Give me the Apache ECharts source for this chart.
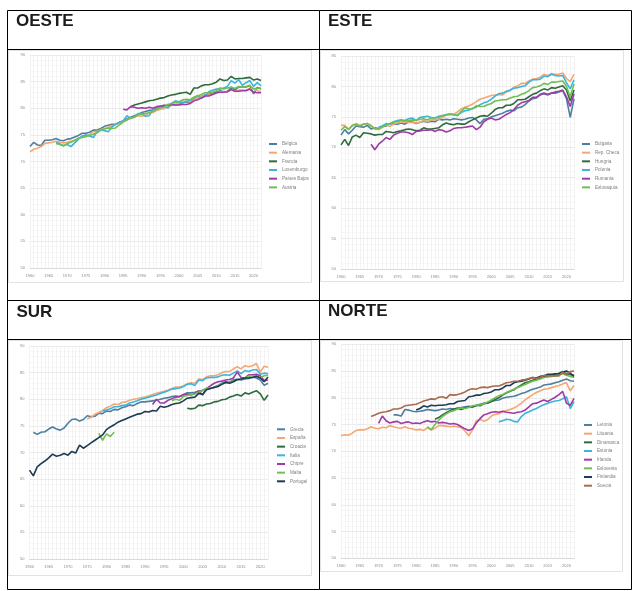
<!DOCTYPE html>
<html><head><meta charset="utf-8">
<script src="https://cdn.jsdelivr.net/npm/echarts@6/dist/echarts.min.js"></script>
<style>html,body{margin:0;padding:0;background:#fff;}#c{width:640px;height:591px;}</style>
</head><body><div id="c"></div>
<script>
// ---- categories ----
const years = [];
for (let y = 1960; y <= 2022; y++) years.push(String(y));
const FIRST = 1960;
function pad(start, vals) { const a = []; for (let y = FIRST; y < start; y++) a.push(null); return a.concat(vals); }

// ---- OESTE ----
const oesteNames = ['Bélgica','Alemania','Francia','Luxemburgo','Países Bajos','Austria'];
const belgica = [72.8,73.6,73.1,73.0,74.0,74.0,74.1,74.3,74.0,73.9, 74.2,74.3,74.6,74.9,75.3,75.3,75.5,75.9,75.9,76.2, 76.6,76.8,77.0,77.0,77.4,77.6,78.0,78.3,78.6,78.8, 79.2,79.4,79.6,79.6,80.0,80.1,80.3,80.5,80.6,80.6, 80.8,81.1,81.2,81.1,81.8,81.9,82.2,82.5,82.6,82.9, 83.0,83.3,83.1,83.2,83.9,83.4,84.0,84.0,84.0,84.3, 82.7,83.9,83.6];
const alemania = [71.8,72.3,72.5,72.8,73.4,73.5,73.6,73.8,73.6,73.5, 73.6,73.8,74.0,74.3,74.6,74.7,75.1,75.6,75.7,76.0, 76.2,76.4,76.7,76.9,77.3,77.6,77.8,78.2,78.3,78.6, 78.5,78.7,79.1,79.2,79.6,79.8,79.9,80.3,80.5,80.7, 81.0,81.3,81.3,81.2,81.8,81.9,82.2,82.4,82.5,82.6, 82.8,83.1,83.1,83.1,83.5,83.2,83.4,83.4,83.4,83.7, 83.6,83.3,83.1];
const francia = [80.3,80.6,80.8, 81.0,81.2,81.4,81.5,81.7,81.9,82.0,82.3,82.5,82.6, 82.8,82.9,83.0,82.6,83.8,83.8,84.2,84.4,84.4,84.6, 84.9,85.5,85.2,85.3,86.0,85.5,85.6,85.6,85.7,85.8, 85.3,85.5,85.2]; // from 1987
const luxemburgo = [73.6,73.3,73.0, 73.2,72.8,73.5,74.2,74.8,75.0,74.8,74.5,75.6,75.9, 75.8,75.6,76.5,77.0,77.3,77.6,78.6,78.1,78.4,79.0, 79.0,78.5,78.6,79.8,79.8,80.2,80.6,80.0,80.9,81.4, 81.2,81.0,81.3,81.5,81.9,82.4,81.9,82.3,83.1,83.4, 83.6,83.6,83.8,84.1,85.2,84.7,85.4,84.3,84.8,85.2, 84.1,84.8,84.2]; // from 1967
const paisesBajos = [79.8,79.7,80.3,80.2,80.0, 80.1,80.0,80.2,80.0,80.3,80.4,80.5,80.6,80.7,80.6, 80.6,80.7,80.7,80.9,81.4,81.6,81.9,82.3,82.3,82.6, 82.9,83.0,83.0,83.1,83.5,83.2,83.2,83.3,83.3,83.6, 83.0,82.9,82.9]; // from 1985
const austria = [73.4,73.2,72.9, 73.4,73.6,74.0,74.4,74.5,74.7,74.9,75.1,75.4,75.9, 76.1,76.3,76.2,76.3,76.9,77.4,77.8,78.1,78.3,78.8, 78.9,79.0,79.2,79.4,79.8,80.1,80.2,80.7,80.9,81.1, 81.2,81.6,81.7,81.6,82.1,82.3,82.6,82.9,82.9,83.0, 83.3,83.8,83.6,83.8,84.0,83.7,84.1,84.0,84.1,84.2, 83.7,83.7,83.8]; // from 1967

// ---- ESTE ----
const esteNames = ['Bulgaria','Rep. Checa','Hungría','Polonia','Rumanía','Eslovaquia'];
const bulgaria = [72.0,72.9,72.2,72.8,73.5,73.4,73.3,73.6,73.0,73.2, 73.1,73.4,73.5,73.9,73.8,73.8,74.0,73.8,74.2,74.2, 73.9,74.1,74.3,74.1,74.3,74.2,74.6,74.5,74.6,74.5, 74.7,74.6,74.5,74.6,74.8,74.9,74.5,73.9,74.6,74.7, 75.0,75.2,75.4,75.6,75.9,76.1,76.0,76.5,76.6,77.0, 77.6,78.0,78.1,78.6,78.8,78.6,78.9,78.9,79.1,79.3, 78.0,74.9,78.0];
const repCheca = [73.6,73.6,73.0,73.5,73.9,73.6,73.8,73.9,73.6,73.1, 72.9,73.4,73.7,73.4,73.8,74.0,74.1,74.2,74.1,74.1, 74.0,74.1,74.4,74.2,74.5,74.5,74.6,74.9,75.3,75.4, 75.4,75.8,76.3,76.6,76.8,77.1,77.5,77.9,78.1,78.3, 78.5,78.6,78.7,78.6,79.1,79.3,79.9,80.1,80.5,80.5, 80.9,81.2,81.3,81.5,82.0,81.8,82.1,82.0,82.0,82.2, 81.3,80.8,82.0];
const hungria = [70.4,71.3,70.3,71.7,72.0,71.6,72.4,72.3,72.2,72.0, 72.1,72.1,72.6,72.5,72.4,72.6,72.7,72.9,73.0,72.9, 72.7,72.8,73.2,73.0,73.0,73.1,73.2,73.7,74.0,73.8, 73.7,73.9,73.8,73.8,74.2,74.5,74.8,75.1,75.2,75.1, 75.6,76.2,76.5,76.5,76.9,76.9,77.2,77.8,77.8,77.9, 78.3,78.7,78.9,79.3,79.6,79.4,79.8,79.7,79.9,80.1, 79.4,77.6,79.4];
const polonia = [73.3,73.5,73.9,73.8,74.2,74.4,74.5,74.4,74.7,74.8, 74.4,74.9,75.0,75.1,74.9,74.8,75.1,75.2,75.4,75.5, 75.3,75.3,75.7,76.0,76.1,76.4,76.6,77.0,77.3,77.5, 77.9,78.4,78.8,78.9,79.2,79.4,79.7,79.8,80.0,80.1, 80.7,81.1,81.1,81.2,81.7,81.6,82.0,81.8,81.7,81.8, 80.6,79.6,81.1]; // from 1970
const rumania = [70.5,69.6, 70.5,71.0,71.6,71.3,72.0,72.3,72.5,72.5,72.4,72.1, 72.6,72.7,72.8,72.8,72.9,72.6,72.9,72.8,72.5,72.7, 73.1,73.2,73.2,73.3,73.4,73.5,72.9,73.3,74.2,74.6, 74.8,74.5,74.6,75.0,75.4,75.7,76.2,76.9,77.3,77.5, 77.7,78.2,78.2,78.7,78.9,78.7,78.9,79.1,79.2,79.4, 78.3,76.7,78.8]; // from 1968
const eslovaquia = [72.8,73.4,72.9,73.6,73.8,73.5,73.8,73.9,73.5,73.0, 73.0,73.3,73.7,73.9,74.1,74.2,74.4,74.3,74.4,74.5, 74.4,74.6,74.7,74.5,74.8,74.8,74.9,75.2,75.3,75.4, 75.4,75.2,75.9,76.5,76.3,76.3,76.8,76.7,76.7,77.0, 77.2,77.6,77.7,77.8,77.8,78.1,78.3,78.4,78.7,78.9, 79.3,79.8,79.9,80.1,80.5,80.3,80.7,80.7,80.8,80.9, 80.0,78.3,80.4];

// ---- SUR ----
const surNames = ['Grecia','España','Croacia','Italia','Chipre','Malta','Portugal'];
const grecia = [73.8,73.4,73.8,73.9,74.4,74.8,74.4,74.2,74.6, 75.5,76.2,76.3,75.9,76.2,76.9,76.7,76.8,77.4,77.3, 77.8,77.7,78.1,78.0,78.4,78.6,78.9,78.8,79.2,79.5, 79.5,79.6,79.7,79.8,80.0,80.2,80.3,80.5,80.6,80.5, 80.9,81.2,81.2,81.3,81.5,81.7,82.0,82.0,82.3,82.6, 83.0,83.3,83.2,83.7,83.7,83.6,83.8,83.9,84.2,84.0, 83.6,82.6,83.0]; // from 1961
const espana = [76.3,76.6,77.2,77.5,77.9, 78.4,78.7,79.1,79.0,79.4,79.5,79.8,80.0,80.1,80.3, 80.4,80.6,80.9,81.1,81.3,81.5,81.7,82.0,82.3,82.3, 82.5,82.9,83.1,83.0,83.8,83.7,84.2,84.4,84.4,84.6, 85.0,85.2,85.2,85.7,86.1,85.7,86.3,86.1,86.3,86.7, 85.1,86.2,86.0]; // from 1975
const croacia = [78.3,78.2,78.3,78.9,78.8,79.1,79.2,79.5,79.6, 79.9,80.0,80.4,80.6,80.9,80.6,81.2,81.0,81.3,81.6, 81.0,79.8,80.8]; // from 2001
const italia = [77.8, 78.0,78.2,78.6,78.6,78.8,78.9,79.3,79.5,79.7,80.0, 80.2,80.4,80.6,80.8,81.1,81.3,81.6,81.9,82.0,82.1, 82.4,82.8,82.9,82.6,83.6,83.5,84.0,84.1,84.1,84.2, 84.5,84.6,84.5,84.9,85.3,84.8,85.4,85.2,85.5,85.6, 84.7,84.9,84.8]; // from 1979
const chipre = [79.0,80.0,79.3,79.3,79.8,80.1,80.4,80.5, 80.8,81.0,80.8,81.1,81.6,80.8,82.0,82.5,83.0,83.3, 83.4,83.6,83.7,84.0,85.1,84.1,84.0,84.6,84.6,84.7, 84.4,83.5,83.6]; // from 1992
const maltaA = [73.6,72.3,73.5,73.0,73.8]; // 1978-1982
const maltaB = [79.7,80.0,79.8, 80.5,80.7,80.9,81.0,81.3,81.6,82.0,82.1,82.2,82.5, 82.9,83.0,83.2,83.4,83.6,83.8,84.0,84.3,84.4,84.4, 84.0,84.4,84.5]; // 1997-2022
const portugal = [66.7,65.6,67.3,67.9,68.4,69.0,69.7,69.3,69.5,69.8, 69.5,70.2,69.9,71.4,70.8,71.3,71.8,72.3,72.8,73.3, 74.3,74.8,75.2,75.7,76.0,76.3,76.6,76.9,77.2,77.3, 77.7,77.6,77.9,77.8,78.7,78.5,78.7,79.0,79.2,79.3, 79.7,80.2,80.3,80.4,81.1,80.9,81.8,82.0,82.2,82.4, 82.8,83.2,83.0,83.3,83.7,83.8,84.0,84.0,84.1,84.3, 84.0,83.3,84.2];

// ---- NORTE ----
const norteNames = ['Letonia','Lituania','Dinamarca','Estonia','Irlanda','Eslovenia','Finlandia','Suecia'];
const letonia = [76.8,76.8,76.6,77.8,77.7,77.5, 77.4,77.5,77.6,77.8,77.7,77.6,77.7,77.9,77.8,78.0, 77.9,78.1,78.2,78.3,78.4,78.3,78.5,78.8,79.0,79.1, 79.3,79.5,79.6,79.9,80.1,80.2,80.3,80.5,80.8,81.0, 81.3,81.6,81.8,82.0,82.4,82.5,82.6,82.8,83.0,83.3, 83.5,83.2,83.1]; // from 1974
const lituania = [72.9,73.1,73.0,73.4,73.9,74.0,74.0,74.2,74.6,74.3, 74.2,74.5,74.4,74.8,74.6,74.4,74.3,74.6,74.3,74.2, 74.0,74.1,73.9,74.4,74.0,74.3,74.8,74.8,74.7,74.6, 74.7,74.6,74.4,73.8,72.9,74.0,75.7,76.0,75.6,75.9, 76.6,76.9,77.0,77.4,77.6,77.8,78.1,78.5,79.0,79.6, 80.1,80.6,81.0,81.3,81.6,81.7,81.9,82.1,82.3,82.6, 82.8,81.3,82.3];
const dinamarca = [76.0,76.3,76.8,77.2,77.6, 77.9,78.0,77.8,78.1,78.3,78.3,78.6,78.5,78.9,79.0, 79.3,79.7,80.0,80.5,80.9,81.2,81.5,82.0,82.4,82.8, 83.0,83.3,83.5,83.6,83.9,84.0,84.2,84.4,84.6,84.9, 84.5,84.3,84.2]; // from 1985
const estonia = [75.5,75.7,76.0,75.9,75.6,75.5,76.5,77.1, 77.4,77.7,78.0,78.4,78.7,79.0,79.2,79.4,79.5,79.8, 80.2,78.0,79.3]; // from 2002
const irlanda = [75.2,76.6,75.7,75.3,75.5,75.6,75.2,75.4,75.5,75.2, 75.3,75.2,75.5,75.7,75.5,75.6,75.3,75.4,75.3,75.1, 75.2,75.0,74.6,74.2,73.9,74.2,75.3,76.1,76.8,77.0, 77.3,77.4,77.3,77.5,77.3,77.2,77.1,77.3,77.4,77.7, 78.3,78.9,79.0,79.3,79.6,79.3,79.7,80.1,80.6,81.2, 79.0,78.6,79.9]; // from 1970
const eslovenia = [74.6,74.0,75.0,75.8,76.5,77.0,77.4, 77.6,77.9,78.1,78.0,78.2,78.5,78.6,78.7,78.9,79.2, 79.6,80.0,80.4,80.6,81.0,81.3,81.6,81.9,82.2,82.5, 82.8,83.1,83.3,83.5,83.8,83.9,84.0,84.1,84.3,84.5, 84.2,84.0,83.8]; // from 1983
const finlandia = [77.7,78.0,78.5,78.3,78.6,78.5,78.6,78.6,78.7,78.9, 78.9,79.3,79.4,79.5,80.2,80.3,80.5,80.5,80.8,80.9, 81.1,81.5,81.5,81.8,82.3,82.3,82.8,83.0,83.1,83.3, 83.5,83.8,83.7,84.0,84.1,84.4,84.4,84.5,84.5,84.8, 85.0,84.6,84.0]; // from 1980
const suecia = [76.5,76.8, 77.1,77.3,77.4,77.6,77.9,77.9,78.1,78.5,78.6,78.7, 78.8,79.1,79.4,79.6,79.8,79.7,80.1,80.2,79.9,80.6, 80.5,80.6,80.8,81.1,81.5,81.7,81.6,81.9,82.0,81.9, 82.1,82.2,82.2,82.5,82.8,82.9,83.1,83.1,83.3,83.4, 83.6,83.8,83.6,83.8,84.2,84.1,84.1,84.1,84.1,84.8, 84.3,84.9,85.0]; // from 1968

const C = ['#4d7f9f','#f4a773','#2f6b3c','#3cb4dc','#9f3aa8','#70bf52','#1f3a52','#a86b4e'];

const panels = [
  { title:'OESTE', tx:16, ty:21.5, grid:{left:30, top:55, width:231, height:213}, ymax:90,
    lx:269, ly:141, box:[8.5,50.5,303,232],
    names: oesteNames,
    data: [pad(1960,belgica), pad(1960,alemania), pad(1987,francia), pad(1967,luxemburgo), pad(1985,paisesBajos), pad(1967,austria)],
    colors: [C[0],C[1],C[2],C[3],C[4],C[5]] },
  { title:'ESTE', tx:328, ty:21.5, grid:{left:341, top:56, width:233, height:213}, ymax:85,
    lx:582, ly:141, box:[320.5,50.5,303,231],
    names: esteNames,
    data: [pad(1960,bulgaria), pad(1960,repCheca), pad(1960,hungria), pad(1970,polonia), pad(1968,rumania), pad(1960,eslovaquia)],
    colors: [C[0],C[1],C[2],C[3],C[4],C[5]] },
  { title:'SUR', tx:16.5, ty:312, grid:{left:29.5, top:346, width:238.5, height:213}, ymax:90,
    lx:277, ly:426.3, box:[8.5,340.5,303,235],
    names: surNames,
    data: [pad(1961,grecia), pad(1975,espana), pad(2001,croacia), pad(1979,italia), pad(1992,chipre),
           pad(1978, maltaA).concat(new Array(14).fill(null), maltaB), pad(1960,portugal)],
    colors: [C[0],C[1],C[2],C[3],C[4],C[5],C[6]] },
  { title:'NORTE', tx:328, ty:311.5, grid:{left:341, top:344.3, width:233, height:214}, ymax:90,
    lx:584, ly:422, box:[320.5,340.5,302,231],
    names: norteNames,
    data: [pad(1974,letonia), pad(1960,lituania), pad(1985,dinamarca), pad(2002,estonia), pad(1970,irlanda), pad(1983,eslovenia), pad(1980,finlandia), pad(1968,suecia)],
    colors: [C[0],C[1],C[2],C[3],C[4],C[5],C[6],C[7]] }
];

const series = [];
panels.forEach((p, i) => {
  p.names.forEach((n, k) => {
    series.push({ type:'line', name:n, xAxisIndex:i, yAxisIndex:i, data:p.data[k],
      showSymbol:false, symbol:'none', connectNulls:false, silent:true,
      lineStyle:{ width:1.6, color:p.colors[k] }, itemStyle:{ color:p.colors[k] } });
  });
});

const graphic = [];
// table borders
const tl = { stroke:'#000', lineWidth:1 };
[[7.5,10.5,631.5,10.5],[7.5,49.5,631.5,49.5],[7.5,300.5,631.5,300.5],[7.5,339.5,631.5,339.5],[7.5,589.5,631.5,589.5],
 [7.5,10.5,7.5,589.5],[319.5,10.5,319.5,589.5],[631.5,10.5,631.5,589.5]].forEach(s => {
  graphic.push({ type:'line', shape:{x1:s[0],y1:s[1],x2:s[2],y2:s[3]}, style:tl, silent:true, z:10 });
});
panels.forEach(p => {
  graphic.push({ type:'rect', shape:{x:p.box[0], y:p.box[1], width:p.box[2], height:p.box[3]},
    style:{ fill:'none', stroke:'#e2e2e2', lineWidth:1 }, silent:true, z:-1 });
  graphic.push({ type:'text', x:p.tx, y:p.ty, silent:true, z:10,
    style:{ text:p.title, fill:'#1c1c1c', font:'bold 17px "Liberation Sans", Arial, sans-serif', verticalAlign:'middle', align:'left' } });
});

const option = {
  animation:false,
  backgroundColor:'#fff',
  textStyle:{ fontFamily:'"Liberation Sans", Arial, sans-serif' },
  grid: panels.map(p => Object.assign({ containLabel:false }, p.grid)),
  xAxis: panels.map((p, i) => ({ type:'category', gridIndex:i, data:years, boundaryGap:false,
    axisLine:{ show:true, lineStyle:{ color:'#d6d6d6', width:0.8 } }, axisTick:{ show:false },
    axisLabel:{ interval:4, fontSize:4, color:'#8a8a8a', margin:6 },
    splitLine:{ show:true, interval:0, lineStyle:{ color:'#ebebeb', width:0.6 } } })),
  yAxis: panels.map((p, i) => ({ type:'value', gridIndex:i, min:50, max:p.ymax, interval:5,
    axisLine:{ show:false }, axisTick:{ show:false },
    axisLabel:{ fontSize:4, color:'#8a8a8a', margin:5 },
    splitLine:{ show:true, lineStyle:{ color:'#dedede', width:0.6 } },
    minorTick:{ show:false, splitNumber:5 },
    minorSplitLine:{ show:true, lineStyle:{ color:'#f1f1f1', width:0.5 } } })),
  legend: panels.map(p => ({ data:p.names, orient:'vertical', left:p.lx, top:p.ly, padding:0,
    itemWidth:8, itemHeight:2, itemGap:2.67, icon:'rect', selectedMode:false,
    textStyle:{ fontSize:4.6, color:'#808080', lineHeight:6 } })),
  graphic: graphic,
  series: series
};

const chart = echarts.init(document.getElementById('c'), null, { renderer:'canvas' });
chart.setOption(option);
</script>
</body></html>
